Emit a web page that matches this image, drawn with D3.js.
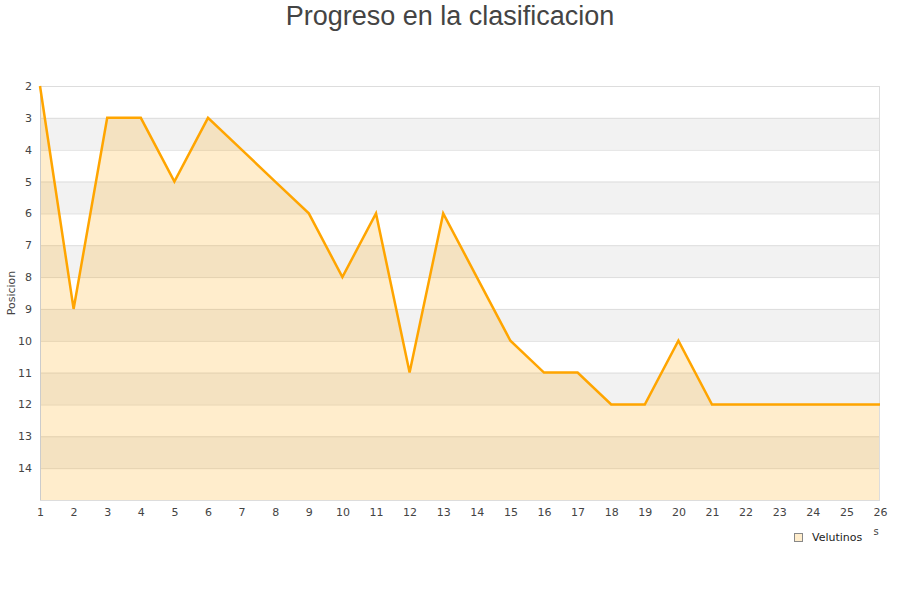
<!DOCTYPE html>
<html><head><meta charset="utf-8">
<script src="https://cdn.jsdelivr.net/npm/d3@7"></script>
<style>body{margin:0;background:#fff;} svg{display:block;}</style>
</head><body>
<svg id="c" width="900" height="600"></svg>
<script>
const jornadas = [1,2,3,4,5,6,7,8,9,10,11,12,13,14,15,16,17,18,19,20,21,22,23,24,25,26];
const posiciones = [2,9,3,3,5,3,4,5,6,8,6,11,6,8,10,11,11,12,12,10,12,12,12,12,12,12];
const yTicks = [2,3,4,5,6,7,8,9,10,11,12,13,14];
const serieNombre = "Velutinos";
const titulo = "Progreso en la clasificacion";
const yTitulo = "Posicion";

const svg = d3.select("#c");
const L = 40, R = 880, T = 86, B = 500;
const x = d3.scaleLinear().domain([1, 26]).range([L, R]);
const y = d3.scaleLinear().domain([2, 15]).range([T, B]);
const font = "'DejaVu Sans', sans-serif";

// bands
const bands = d3.range(2, 15);
svg.selectAll("rect.band").data(bands).enter().append("rect")
  .attr("x", L).attr("width", R - L)
  .attr("y", d => y(d)).attr("height", d => y(d + 1) - y(d))
  .attr("fill", d => (d % 2 === 1) ? "#f2f2f2" : "#ffffff");

// grid lines
svg.selectAll("line.grid").data(d3.range(3, 15)).enter().append("line")
  .attr("x1", L).attr("x2", R).attr("y1", d => y(d) + 0.5).attr("y2", d => y(d) + 0.5)
  .attr("stroke", "#dddddd").attr("stroke-width", 1);

// area
const data = jornadas.map((j, i) => ({j, p: posiciones[i]}));
svg.append("path").datum(data)
  .attr("d", d3.area().x(d => x(d.j)).y0(B).y1(d => y(d.p)))
  .attr("fill", "rgba(255,165,0,0.2)");

// border
svg.append("rect").attr("x", L + 0.5).attr("y", T + 0.5).attr("width", R - L - 1).attr("height", B - T)
  .attr("fill", "none").attr("stroke", "#dddddd");
svg.append("line").attr("x1", L + 0.5).attr("x2", L + 0.5).attr("y1", T).attr("y2", B + 1)
  .attr("stroke", "#cccccc");
svg.append("line").attr("x1", L).attr("x2", R).attr("y1", B + 0.5).attr("y2", B + 0.5)
  .attr("stroke", "#dddddd");

// line
svg.append("path").datum(data)
  .attr("d", d3.line().x(d => x(d.j)).y(d => y(d.p)))
  .attr("fill", "none").attr("stroke", "#ffa500").attr("stroke-width", 2.5)
  .attr("stroke-linejoin", "miter");

// y axis labels
const yAxis = d3.axisLeft(y).tickValues(yTicks).tickSize(0).tickPadding(8);
const gy = svg.append("g").attr("transform", `translate(${L},0)`).call(yAxis);
gy.select(".domain").remove();
gy.selectAll("text").attr("font-family", font).attr("font-size", 11).attr("fill", "#444");

// x axis labels
const xAxis = d3.axisBottom(x).tickValues(jornadas).tickSize(0).tickPadding(8);
const gx = svg.append("g").attr("transform", `translate(0,${B})`).call(xAxis);
gx.select(".domain").remove();
gx.selectAll("text").attr("font-family", font).attr("font-size", 11).attr("fill", "#444");

// title
svg.append("text").attr("x", 450).attr("y", 25).attr("text-anchor", "middle")
  .attr("font-family", "'Liberation Sans', Arial, sans-serif").attr("font-size", 27)
  .attr("fill", "#444").text(titulo);

// y title
svg.append("text").attr("transform", "translate(15,293) rotate(-90)")
  .attr("text-anchor", "middle").attr("font-family", font).attr("font-size", 11)
  .attr("fill", "#444").text(yTitulo);

// clipped axis title remnant
svg.append("text").attr("x", 876).attr("y", 535).attr("text-anchor", "middle")
  .attr("font-family", font).attr("font-size", 10).attr("fill", "#444").text("s");

// legend
svg.append("rect").attr("x", 794.5).attr("y", 533.5).attr("width", 8).attr("height", 8)
  .attr("fill", "#ffedcc").attr("stroke", "#888");
svg.append("text").attr("x", 812).attr("y", 541).attr("font-family", font)
  .attr("font-size", 11).attr("fill", "#222").text(serieNombre);
</script>
</body></html>
